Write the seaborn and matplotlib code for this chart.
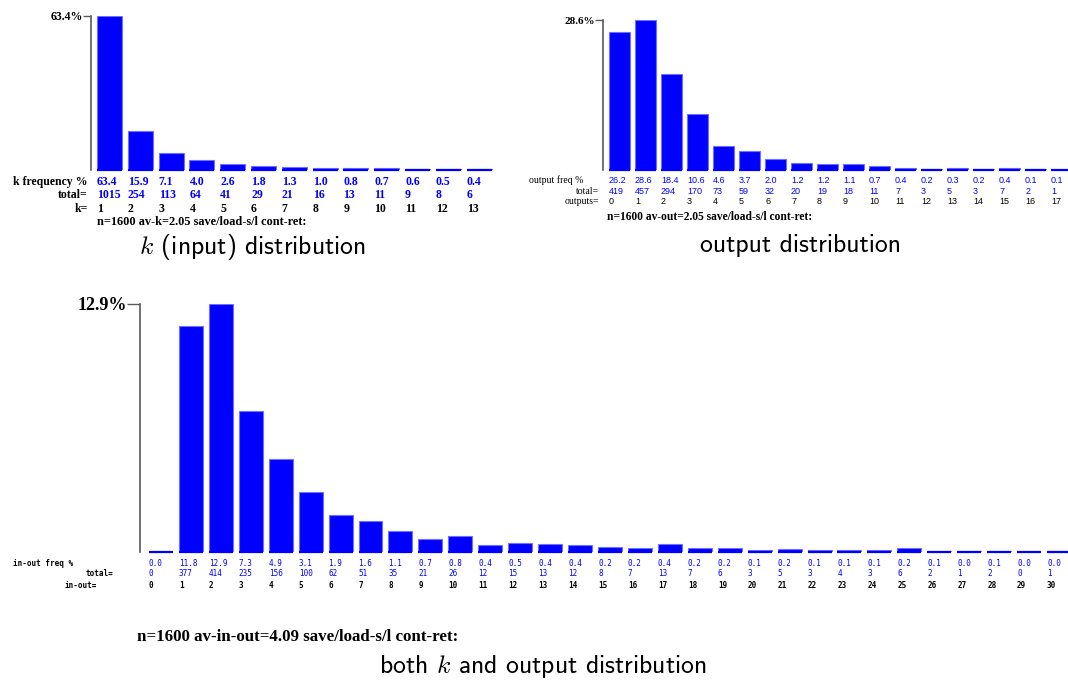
import matplotlib
matplotlib.use("Agg")
import matplotlib.pyplot as plt
import matplotlib.transforms as mtransforms
import seaborn as sns
import pandas as pd

# values
k_vals = list(range(1, 14))
k_pct = ["63.4", "15.9", "7.1", "4.0", "2.6", "1.8", "1.3", "1.0", "0.8", "0.7", "0.6", "0.5", "0.4"]
k_tot = [1015, 254, 113, 64, 41, 29, 21, 16, 13, 11, 9, 8, 6]

out_vals = list(range(0, 18))
out_pct = ["26.2", "28.6", "18.4", "10.6", "4.6", "3.7", "2.0", "1.2", "1.2", "1.1",
           "0.7", "0.4", "0.2", "0.3", "0.2", "0.4", "0.1", "0.1"]
out_tot = [419, 457, 294, 170, 73, 59, 32, 20, 19, 18, 11, 7, 3, 5, 3, 7, 2, 1]

io_vals = list(range(0, 31))
io_pct = ["0.0", "11.8", "12.9", "7.3", "4.9", "3.1", "1.9", "1.6", "1.1", "0.7", "0.8",
          "0.4", "0.5", "0.4", "0.4", "0.2", "0.2", "0.4", "0.2", "0.2", "0.1", "0.2",
          "0.1", "0.1", "0.1", "0.2", "0.1", "0.0", "0.1", "0.0", "0.0"]
io_tot = [0, 377, 414, 235, 156, 100, 62, 51, 35, 21, 26, 12, 15, 13, 12, 8, 7, 13,
          7, 6, 3, 5, 3, 4, 3, 6, 2, 1, 2, 0, 1]

sns.set_style("white")
plt.rcParams["mathtext.fontset"] = "cm"
plt.rcParams["text.color"] = "black"
plt.rcParams["ytick.color"] = "black"

W, H = 1068, 681
fig = plt.figure(figsize=(W / 100, H / 100), dpi=100)

BLUE = "#0000ff"
SERIF = "Liberation Serif"


def fx(x):
    return x / W


def fy(y):
    return 1 - y / H


def panel(x0, x1, ytop, ybase, xlim, width, cats, heights, top_label, lab_size, tick_len):
    ax = fig.add_axes([fx(x0), fy(ybase), fx(x1) - fx(x0), (ybase - ytop) / H])
    df = pd.DataFrame({"cat": [str(c) for c in cats], "val": heights})
    sns.barplot(data=df, x="cat", y="val", ax=ax, color=BLUE, saturation=1,
                width=width, edgecolor="#7070ff", linewidth=0.8)
    # thin floor line under every bar, so empty / tiny bars still show
    ax.hlines([0] * len(cats), [i - width / 2 for i in range(len(cats))],
              [i + width / 2 for i in range(len(cats))], color=BLUE, lw=1.6, clip_on=False)
    ax.set_xlim(*xlim)
    ax.set_ylim(0, max(heights))
    for s in ["top", "right", "bottom"]:
        ax.spines[s].set_visible(False)
    ax.spines["left"].set_color("#5a5a5a")
    ax.spines["left"].set_linewidth(1.2)
    ax.set_xticks([])
    ax.set_yticks([max(heights)])
    ax.set_yticklabels([top_label], fontfamily=SERIF, fontweight="bold", fontsize=lab_size)
    ax.tick_params(axis="y", length=tick_len, width=1, color="#5a5a5a", pad=0, left=True)
    ax.set_xlabel("")
    ax.set_ylabel("")
    ax.patch.set_alpha(0)
    return ax


def row(ax, y, texts, width, color, **kw):
    tr = mtransforms.blended_transform_factory(ax.transData, fig.transFigure)
    for i, t in enumerate(texts):
        ax.text(i - width / 2, fy(y), t, transform=tr, ha="left", va="center",
                color=color, clip_on=False, **kw)


CAP = dict(fontfamily=["cmss10", "DejaVu Sans"], fontsize=18.5, ha="center", va="center")

# ---- top-left: k (input) distribution
w1 = 0.81
ax1 = panel(91, 497, 16, 170, (-0.60, 12.58), w1, k_vals, k_tot, "63.4%", 8.5, 5.8)
f1 = dict(fontfamily=SERIF, fontweight="bold", fontsize=8.5)
row(ax1, 182, k_pct, w1, BLUE, **f1)
row(ax1, 195, [str(t) for t in k_tot], w1, BLUE, **f1)
row(ax1, 209, [str(v) for v in k_vals], w1, "black", **f1)
for y, t in [(182, "k frequency %"), (195, "total="), (209, "k=")]:
    fig.text(fx(88), fy(y), t, ha="right", va="center", **f1)
fig.text(fx(97), fy(222), "n=1600 av-k=2.05 save/load-s/l cont-ret:", ha="left", va="center",
         fontfamily=SERIF, fontweight="bold", fontsize=8.8)
fig.text(fx(252), fy(247), "$k$ (input) distribution", **CAP)

# ---- top-right: output distribution
w2 = 0.8
ax2 = panel(603, 1068, 20, 170, (-0.63, 17.25), w2, out_vals, out_tot, "28.6%", 8, 5.8)
f2 = dict(fontfamily="Liberation Sans", fontsize=6.5)
row(ax2, 180, out_pct, w2, BLUE, **f2)
row(ax2, 191, [str(t) for t in out_tot], w2, BLUE, **f2)
row(ax2, 201, [str(v) for v in out_vals], w2, "black", **f2)
fs = dict(fontfamily=SERIF, fontsize=7)
fig.text(fx(529), fy(180), "output freq %", ha="left", va="center", **fs)
fig.text(fx(599), fy(191), "total=", ha="right", va="center", **fs)
fig.text(fx(599), fy(201), "outputs=", ha="right", va="center", **fs)
fig.text(fx(607), fy(217), "n=1600 av-out=2.05 save/load-s/l cont-ret:", ha="left", va="center",
         fontfamily=SERIF, fontweight="bold", fontsize=8.3)
fig.text(fx(800), fy(246), "output distribution", **CAP)

# ---- bottom: both k and output distribution
w3 = 0.8
ax3 = panel(140, 1068, 304, 552, (-0.70, 30.30), w3, io_vals, io_tot, "12.9%", 13, 9.4)
f3 = dict(fontfamily="DejaVu Sans Mono", fontsize=5.5)
row(ax3, 563, io_pct, w3, BLUE, **f3)
row(ax3, 574, [str(t) for t in io_tot], w3, BLUE, **f3)
row(ax3, 585, [str(v) for v in io_vals], w3, "black", fontweight="bold", **f3)
fig.text(fx(13), fy(563), "in-out freq %", ha="left", va="center", fontweight="bold", **f3)
fig.text(fx(113), fy(574), "total=", ha="right", va="center", fontweight="bold", **f3)
fig.text(fx(97), fy(585), "in-out=", ha="right", va="center", fontweight="bold", **f3)
fig.text(fx(137), fy(637), "n=1600 av-in-out=4.09 save/load-s/l cont-ret:", ha="left", va="center",
         fontfamily=SERIF, fontweight="bold", fontsize=12.2)
fig.text(fx(543), fy(667), "both $k$ and output distribution", **CAP)

fig.savefig("out.png", dpi=100)
